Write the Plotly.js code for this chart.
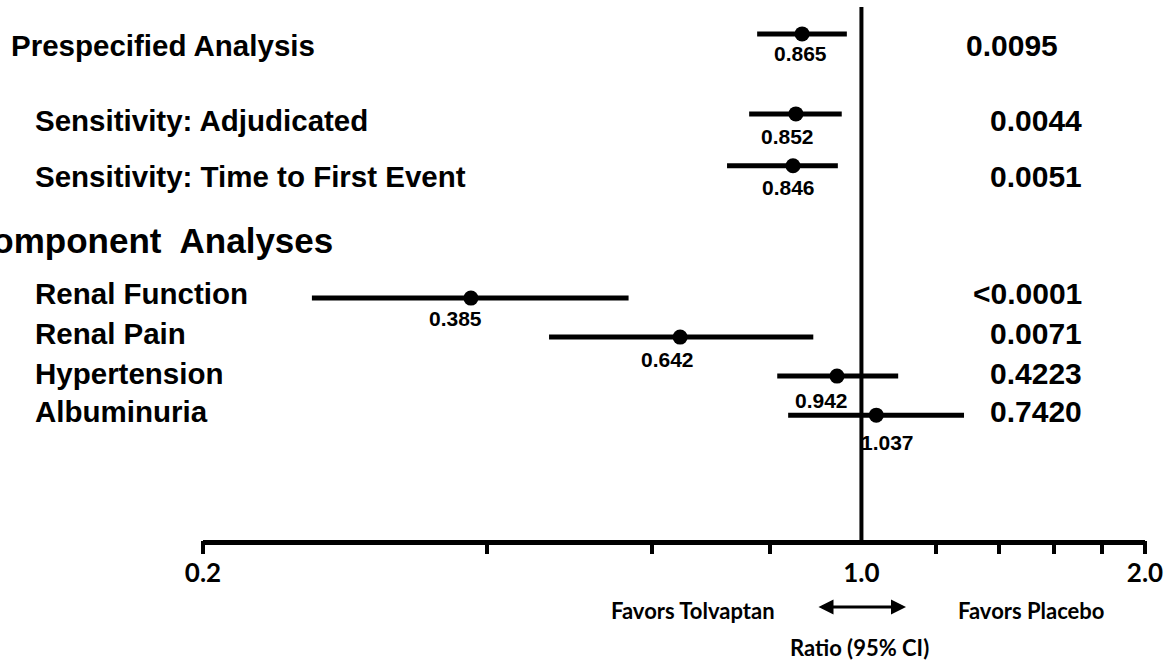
<!DOCTYPE html>
<html>
<head>
<meta charset="utf-8">
<script src="https://cdn.plot.ly/plotly-3.0.1.min.js"></script>
<style>
  html, body { margin: 0; padding: 0; background: #fff; }
  #chart { width: 1169px; height: 661px; }
</style>
</head>
<body>
<div id="chart"></div>
<script>
// Hazard ratios with 95% confidence intervals for the composite endpoint and its components
const labels = [
  'Prespecified Analysis',
  'Sensitivity: Adjudicated',
  'Sensitivity: Time to First Event',
  'Renal Function',
  'Renal Pain',
  'Hypertension',
  'Albuminuria'
];
const ratio = [0.865, 0.852, 0.846, 0.385, 0.642, 0.942, 1.037];
const ciLow = [0.775, 0.760, 0.720, 0.261, 0.466, 0.814, 0.836];
const ciHigh = [0.965, 0.953, 0.944, 0.566, 0.889, 1.094, 1.285];
const pValues = ['0.0095', '0.0044', '0.0051', '<0.0001', '0.0071', '0.4223', '0.7420'];
const groupTitle = 'Component\u00A0 Analyses';
const tickVals = [0.2, 1.0, 2.0];
const tickText = ['0.2', '1.0', '2.0'];
const minorTickVals = [0.4, 0.6, 0.8, 1.2, 1.4, 1.6, 1.8];

// Layout helpers: vertical slot of each row (one unit is one row of the component list)
const rowSlot = [0, 2.05, 3.38, 6.77, 7.77, 8.77, 9.77];
const groupSlot = 5.3;
const labelShift = [-12, -7, -11, 5, 4, 3, 4];
const valueShift = [[-2, -20], [-8, -23], [-5, -22], [-15, -20], [-13, -22], [-15, -24], [11, -27]];

const ARIAL = 'Liberation Sans, Arial, Helvetica, sans-serif';
const HUMANIST = 'Lato, Open Sans, sans-serif';

const plotLeft = 203, plotWidth = 942;
const px = (p) => (p - plotLeft) / plotWidth; // pixel column -> paper fraction

const traces = [
  {
    type: 'scatter',
    mode: 'markers',
    x: ratio,
    y: rowSlot,
    marker: { color: '#000', size: 15 },
    error_x: {
      type: 'data',
      symmetric: false,
      array: ratio.map((r, i) => ciHigh[i] - r),
      arrayminus: ratio.map((r, i) => r - ciLow[i]),
      color: '#000',
      thickness: 5,
      width: 0
    },
    hoverinfo: 'x',
    showlegend: false
  },
  {
    // carries the long end ticks of the ratio axis
    type: 'scatter',
    mode: 'markers',
    x: [1],
    y: [rowSlot[0]],
    xaxis: 'x2',
    marker: { opacity: 0 },
    hoverinfo: 'skip',
    showlegend: false
  }
];

const annotations = [];
labels.forEach((t, i) => {
  annotations.push({
    text: t, xref: 'paper', yref: 'y',
    x: px(i === 0 ? 9 : 33), y: rowSlot[i], yshift: labelShift[i],
    xanchor: 'left', yanchor: 'middle', showarrow: false,
    font: { family: ARIAL, size: 29.5, color: '#000', weight: 'bold' }
  });
  annotations.push({
    text: pValues[i], xref: 'paper', yref: 'y',
    x: px(i === 0 ? 1060 : 1084), y: rowSlot[i], yshift: labelShift[i],
    xanchor: 'right', yanchor: 'middle', showarrow: false,
    font: { family: ARIAL, size: 30, color: '#000', weight: 'bold' }
  });
  annotations.push({
    text: ratio[i].toFixed(3), xref: 'x', yref: 'y',
    x: Math.log10(ratio[i]), y: rowSlot[i],
    xshift: valueShift[i][0], yshift: valueShift[i][1],
    xanchor: 'center', yanchor: 'middle', showarrow: false,
    font: { family: ARIAL, size: 21, color: '#000', weight: 'bold' }
  });
});

annotations.push({
  text: groupTitle, xref: 'paper', yref: 'y',
  x: px(-35), y: groupSlot,
  xanchor: 'left', yanchor: 'middle', showarrow: false,
  font: { family: ARIAL, size: 35, color: '#000', weight: 'bold' }
});

// Direction captions under the axis
annotations.push({
  text: 'Favors Tolvaptan', xref: 'paper', yref: 'paper',
  x: px(777), y: 0, yshift: -70, xanchor: 'right', yanchor: 'middle',
  showarrow: false, font: { family: HUMANIST, size: 22, color: '#000', weight: 'bold' }
});
annotations.push({
  text: 'Favors Placebo', xref: 'paper', yref: 'paper',
  x: px(956), y: 0, yshift: -70, xanchor: 'left', yanchor: 'middle',
  showarrow: false, font: { family: HUMANIST, size: 22, color: '#000', weight: 'bold' }
});
annotations.push({
  text: 'Ratio (95% CI)', xref: 'paper', yref: 'paper',
  x: px(859), y: 0, yshift: -107, xanchor: 'center', yanchor: 'middle',
  showarrow: false, font: { family: HUMANIST, size: 22, color: '#000', weight: 'bold' }
});
annotations.push({
  text: '', xref: 'paper', yref: 'paper',
  x: px(906), y: 0, yshift: -67,
  axref: 'pixel', ayref: 'pixel', ax: -89, ay: 0,
  showarrow: true, arrowside: 'end+start', arrowhead: 2, arrowsize: 1,
  arrowwidth: 3, arrowcolor: '#000'
});

const axisRange = [Math.log10(0.2), Math.log10(2.0)];

const layout = {
  width: 1169,
  height: 661,
  margin: { l: 203, r: 24, t: 7, b: 121, pad: 0 },
  paper_bgcolor: '#fff',
  plot_bgcolor: '#fff',
  showlegend: false,
  xaxis: {
    type: 'log',
    range: axisRange,
    tickmode: 'array',
    tickvals: tickVals,
    ticktext: tickText,
    ticks: '',
    ticklabelstandoff: 6,
    tickfont: { family: HUMANIST, size: 26, color: '#000', weight: 'bold' },
    showgrid: false,
    zeroline: false,
    showline: true,
    linecolor: '#000',
    linewidth: 5,
    minor: {
      tickmode: 'array',
      tickvals: minorTickVals,
      ticks: 'outside',
      ticklen: 9,
      tickwidth: 4,
      tickcolor: '#000',
      showgrid: false
    },
    fixedrange: true
  },
  xaxis2: {
    type: 'log',
    range: axisRange,
    overlaying: 'x',
    anchor: 'y',
    side: 'bottom',
    tickmode: 'array',
    tickvals: [0.2, 2.0],
    ticks: 'outside',
    ticklen: 13,
    tickwidth: 4,
    tickcolor: '#000',
    showticklabels: false,
    showgrid: false,
    zeroline: false,
    showline: false,
    fixedrange: true
  },
  yaxis: {
    range: [12.97, -0.69],
    visible: false,
    showgrid: false,
    zeroline: false,
    fixedrange: true
  },
  shapes: [
    {
      type: 'line', xref: 'x', yref: 'paper',
      x0: 1, x1: 1, y0: 0, y1: 1,
      line: { color: '#000', width: 4 },
      layer: 'below'
    }
  ],
  annotations: annotations
};

Plotly.newPlot('chart', traces, layout, { displayModeBar: false, staticPlot: true });
</script>
</body>
</html>
